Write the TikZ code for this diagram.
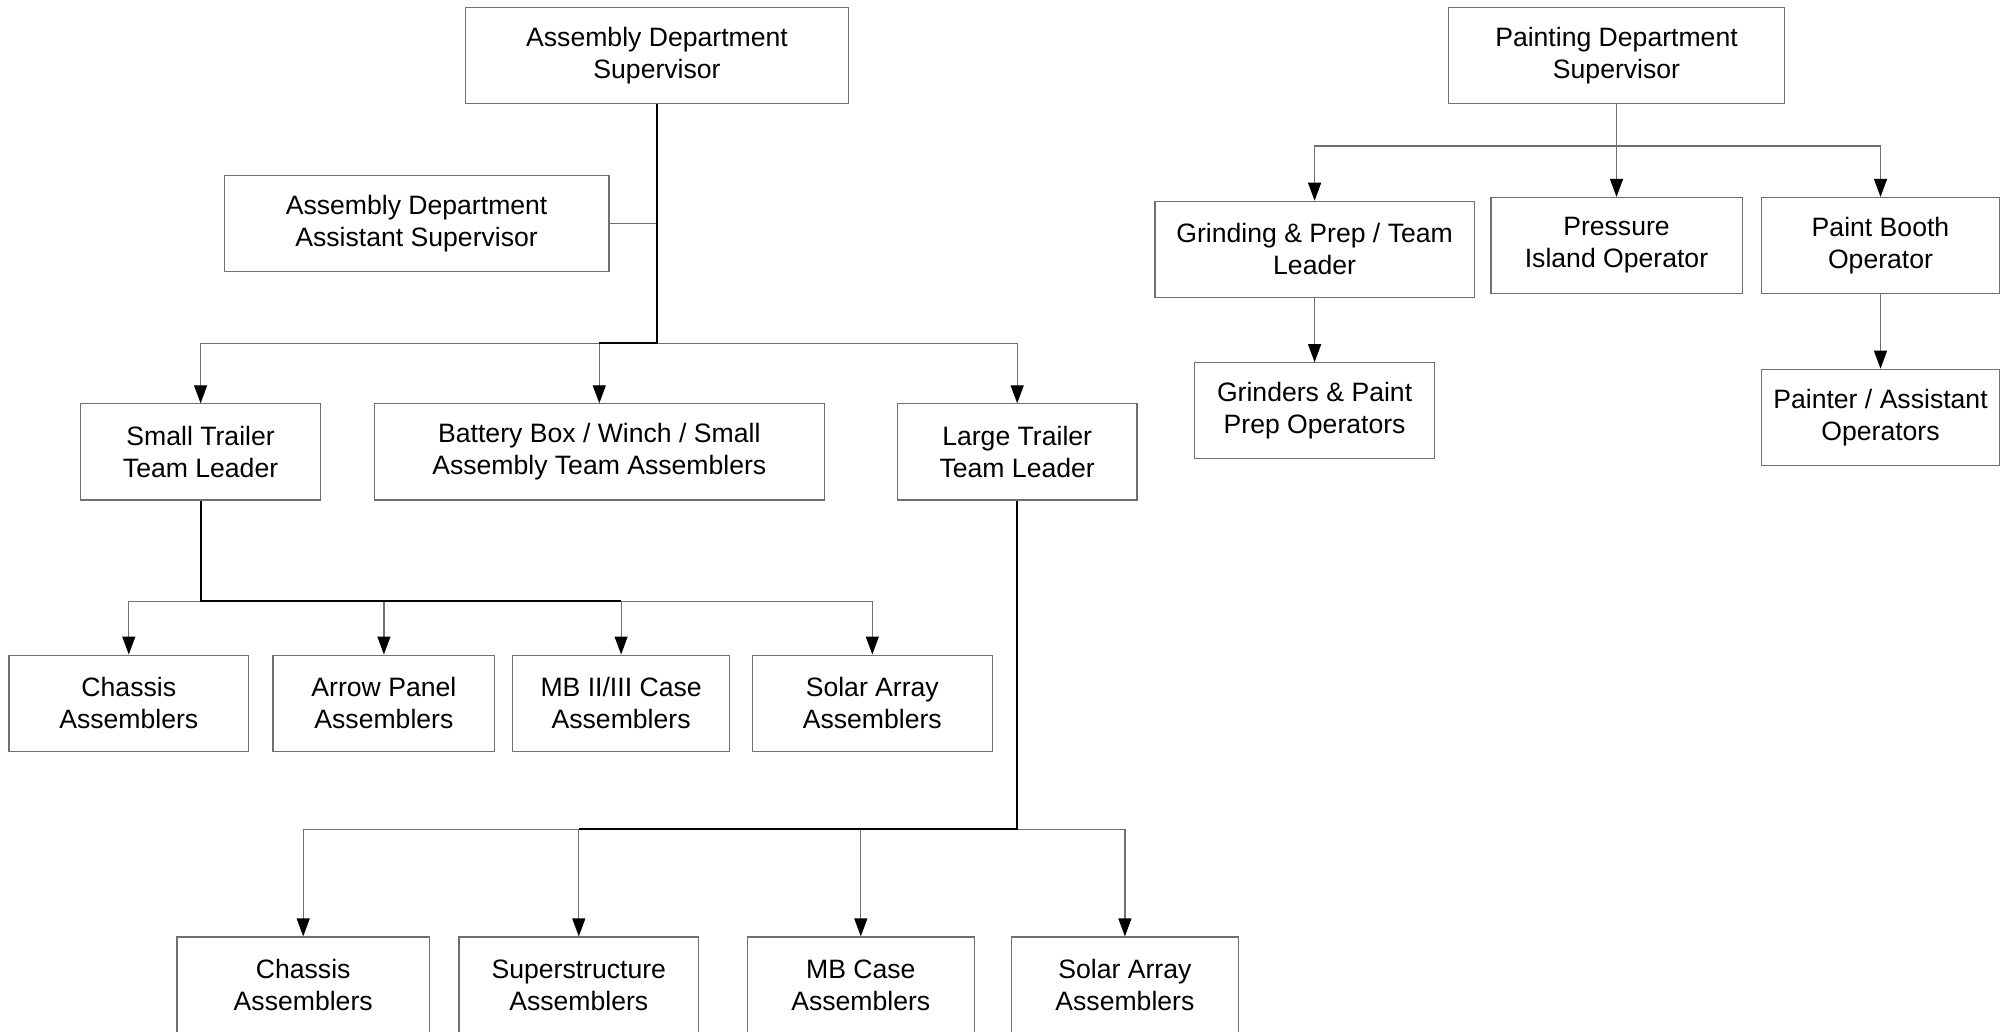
\documentclass[tikz,border=0pt]{standalone}
\usepackage{fontspec}
\setmainfont{Liberation Sans}
\usetikzlibrary{arrows.meta}
\definecolor{boxgray}{RGB}{112,112,112}
\tikzset{
    org-box/.style = {draw=boxgray, line width=0.6pt, fill=white, rectangle, align=center, minimum height=48pt, inner sep=2pt, font=\fontsize{13.3}{16}\selectfont},
    org-link/.style = {draw=boxgray, line width=0.6pt},
    org-arrow/.style = {org-link, -{Triangle[length=9pt, width=6.5pt, color=black]}},
    org-trunk/.style = {draw=black, line width=1pt},
}

\begin{document}
\begin{tikzpicture}[x=0.5pt, y=-0.5pt]
\useasboundingbox (0,0) rectangle (2010,1032);
\clip (0,0) rectangle (2010,1032);
% assembly department
\node[org-box, minimum width=191.5pt] (ads) at (657,55.8) {Assembly Department\\Supervisor};
\node[org-box, minimum width=192.3pt] (adas) at (416.6,223.7) {Assembly Department\\Assistant Supervisor};
\node[org-box, minimum width=119.8pt] (stl) at (200.6,451.9) {Small Trailer\\Team Leader};
\node[org-box, minimum width=225pt] (bat) at (599.3,451.9) {Battery Box / Winch / Small\\Assembly Team Assemblers};
\node[org-box, minimum width=119.8pt] (ltl) at (1017.2,451.9) {Large Trailer\\Team Leader};
% small trailer team
\node[org-box, minimum width=119.8pt] (schassis) at (128.8,703.1) {Chassis\\Assemblers};
\node[org-box, minimum width=110.9pt] (sarrow) at (383.9,703.1) {Arrow Panel\\Assemblers};
\node[org-box, minimum width=108.3pt] (smbcase) at (621.1,703.1) {MB II/III Case\\Assemblers};
\node[org-box, minimum width=119.8pt] (ssolar) at (872.3,703.1) {Solar Array\\Assemblers};
% large trailer team
\node[org-box, minimum width=126.2pt] (lchassis) at (303.2,985) {Chassis\\Assemblers};
\node[org-box, minimum width=119.8pt] (lsuper) at (578.8,985) {Superstructure\\Assemblers};
\node[org-box, minimum width=113.4pt] (lmbcase) at (860.8,985) {MB Case\\Assemblers};
\node[org-box, minimum width=113.4pt] (lsolar) at (1124.9,985) {Solar Array\\Assemblers};
% painting department
\node[org-box, minimum width=168pt] (pds) at (1616.5,55.8) {Painting Department\\Supervisor};
\node[org-box, minimum width=159.6pt] (grind) at (1314.6,249.3) {Grinding \& Prep / Team\\Leader};
\node[org-box, minimum width=125.6pt] (press) at (1616.5,245.5) {Pressure\\Island Operator};
\node[org-box, minimum width=119.2pt] (booth) at (1880.5,245.5) {Paint Booth\\Operator};
\node[org-box, minimum width=119.8pt] (grinders) at (1314.6,410.8) {Grinders \& Paint\\Prep Operators};
\node[org-box, minimum width=119.2pt] (painter) at (1880.5,417.3) {Painter / Assistant\\Operators};

\coordinate (asmbus) at (657,343.5);
\coordinate (stlbus) at (200.6,601.2);
\coordinate (ltlbus) at (1017.2,829.4);
\coordinate (pntbus) at (1616.5,146.1);

\draw[org-link] (adas) -- (adas.east -| asmbus);
\foreach \n in {stl,bat,ltl} \draw[org-arrow] (asmbus) -| (\n);
\draw[org-trunk] (ads) -- (asmbus) -- (asmbus -| bat);
\foreach \n in {schassis,sarrow,smbcase,ssolar} \draw[org-arrow] (stlbus) -| (\n);
\draw[org-trunk] (stl) -- (stlbus) -- (stlbus -| smbcase);
\foreach \n in {lchassis,lsuper,lmbcase,lsolar} \draw[org-arrow] (ltlbus) -| (\n);
\draw[org-trunk] (ltl) -- (ltlbus) -- (ltlbus -| lsuper);
\draw[org-link] (pds) -- (pntbus);
\foreach \n in {grind,press,booth} \draw[org-arrow] (pntbus) -| (\n);
\draw[org-arrow] (grind) -- (grinders);
\draw[org-arrow] (booth) -- (painter);
\end{tikzpicture}
\end{document}
